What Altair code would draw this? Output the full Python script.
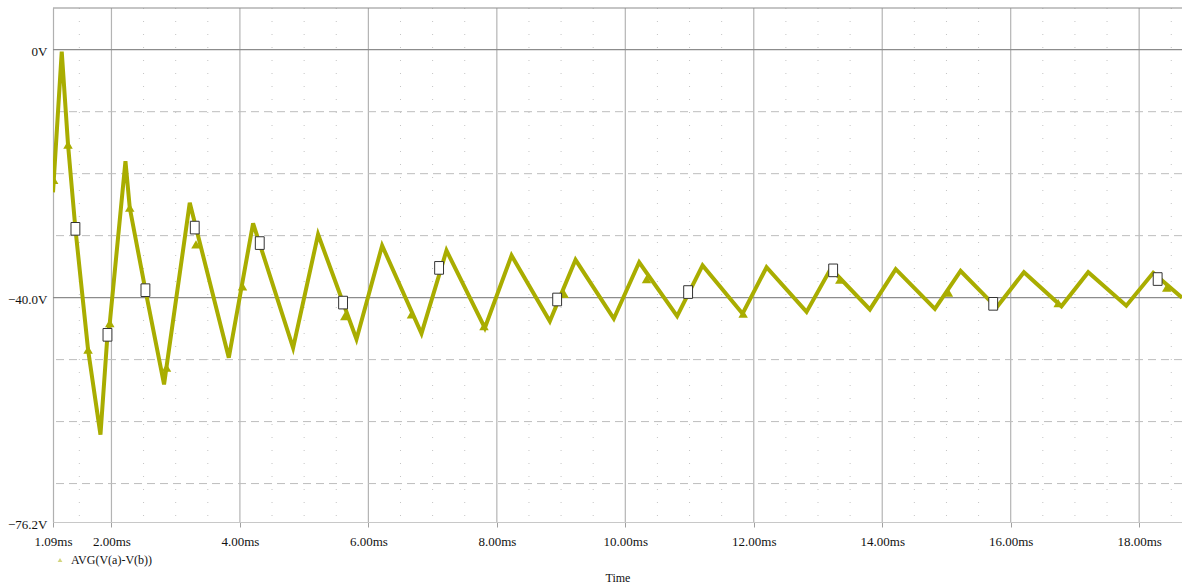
import altair as alt
import pandas as pd

# ---- data ----
T_MIN, T_MAX = 1.09, 18.667
V_MIN, V_MAX = -76.2, 6.73

line_t = [1.09, 1.226, 1.324, 1.439, 1.636, 1.829, 1.938, 1.974, 2.218, 2.285, 2.529, 2.819,
          3.219, 3.827, 4.205, 4.828, 5.217, 5.815, 6.214, 6.827, 7.216, 7.813, 8.229, 8.825,
          9.225, 9.821, 10.216, 10.807, 11.203, 11.826, 12.199, 12.822, 13.20, 13.808, 14.21,
          14.82, 15.22, 15.78, 16.206, 16.79, 17.207, 17.80, 18.219, 18.667]
line_v = [-23.0, -0.3, -15.3, -28.9, -48.4, -62.1, -46.0, -44.1, -18.0, -25.5, -38.8, -54.0,
          -24.7, -49.7, -28.0, -48.1, -29.8, -46.7, -31.6, -45.8, -32.4, -44.9, -33.2, -43.8,
          -33.9, -43.4, -34.3, -43.0, -34.8, -42.6, -35.1, -42.3, -35.3, -41.9, -35.4,
          -41.8, -35.7, -41.6, -35.9, -41.4, -35.9, -41.3, -36.0, -40.0]

tri_t = [1.10, 1.324, 1.636, 1.974, 2.285, 2.857, 3.316, 4.04, 5.633, 6.671, 7.80,
         9.048, 10.33, 11.835, 13.34, 15.03, 16.74, 18.43]
tri_v = [-21.0, -15.3, -48.4, -44.1, -25.5, -51.3, -31.4, -38.2, -43.0, -42.7, -44.6,
         -39.4, -37.0, -42.6, -37.1, -39.2, -40.9, -38.4]

sq_t = [1.439, 1.938, 2.529, 3.297, 4.309, 5.606, 7.101, 8.939, 10.978, 13.236, 15.728, 18.288]
sq_v = [-28.9, -46.0, -38.8, -28.7, -31.2, -40.8, -35.2, -40.3, -39.1, -35.6, -41.0, -37.0]

x_tick_values = [1.09, 2, 4, 6, 8, 10, 12, 14, 16, 18]
y_tick_values = [0, -40, -76.2]
major_v_grid = [2, 4, 6, 8, 10, 12, 14, 16, 18]
minor_v_grid = [1.5, 2.5, 3.0, 3.5, 4.5, 5.0, 5.5, 6.5, 7.0, 7.5, 8.5, 9.0, 9.5, 10.5, 11.0,
                11.5, 12.5, 13.0, 13.5, 14.5, 15.0, 15.5, 16.5, 17.0, 17.5, 18.5]
dashed_h_grid = [-10, -20, -30, -50, -60, -70]
solid_h_grid = [6.73, 0, -40]

series_name = "AVG(V(a)-V(b))"

FONT = "Liberation Serif"
OLIVE = "#a9ad00"

xs = alt.Scale(domain=[T_MIN, T_MAX], nice=False, zero=False)
ys = alt.Scale(domain=[V_MIN, V_MAX], nice=False, zero=False)

x_axis = alt.Axis(
    values=x_tick_values,
    labelExpr="format(datum.value, '.2f') + 'ms'",
    title="Time",
    grid=False,
    domain=True, domainColor="#c8c8c8", domainWidth=1,
    ticks=True, tickSize=5, tickColor="#a0a0a0",
    labelFont=FONT, labelFontSize=13, labelColor="#111111",
    labelPadding=8, labelOverlap=False, labelFlush=False,
    titleFont=FONT, titleFontSize=12, titleFontWeight="normal",
    titleColor="#111111", titlePadding=24,
)
y_axis = alt.Axis(
    values=y_tick_values,
    labelExpr="datum.value == 0 ? '0V' : format(datum.value, '.1f') + 'V'",
    title=None,
    grid=False,
    domain=True, domainColor="#b0b0b0", domainWidth=1.2,
    ticks=False,
    labelFont=FONT, labelFontSize=13, labelColor="#111111",
    labelPadding=6, labelOffset=2,
)

line_df = pd.DataFrame({"t": line_t, "v": line_v, "series": series_name})
tri_df = pd.DataFrame({"t": tri_t, "v": tri_v, "series": series_name})
sq_df = pd.DataFrame({"t": sq_t, "v": sq_v})

X = alt.X("t:Q", scale=xs, axis=x_axis)
Y = alt.Y("v:Q", scale=ys, axis=y_axis)

minor_v = alt.Chart(pd.DataFrame({"t": minor_v_grid})).mark_rule(
    color="#c4c4c4", strokeWidth=1, strokeDash=[1, 12]
).encode(x=X)

major_v = alt.Chart(pd.DataFrame({"t": major_v_grid})).mark_rule(
    color="#b4b4b4", strokeWidth=1.2
).encode(x=X)

dashed_h = alt.Chart(pd.DataFrame({"v": dashed_h_grid})).mark_rule(
    color="#bdbdbd", strokeWidth=1, strokeDash=[8, 5]
).encode(y=Y)

solid_h = alt.Chart(pd.DataFrame({"v": solid_h_grid})).mark_rule(
    color="#8c8c8c", strokeWidth=1.2
).encode(y=Y)

line = alt.Chart(line_df).mark_line(
    color=OLIVE, strokeWidth=4, clip=True, strokeJoin="miter"
).encode(x=X, y=Y, order="t:Q")

tris = alt.Chart(tri_df).mark_point(
    filled=True, color=OLIVE, size=90, opacity=1, clip=True
).encode(
    x=X, y=Y,
    shape=alt.Shape(
        "series:N",
        scale=alt.Scale(range=["triangle-up"]),
        legend=alt.Legend(
            orient="none", legendX=1, legendY=546, title=None,
            symbolSize=22, symbolFillColor="#f2f2e0", symbolStrokeColor="#c8c8a8",
            symbolStrokeWidth=1, symbolOpacity=0.5,
            labelFont=FONT, labelFontSize=12, labelColor="#111111", labelOffset=5,
            padding=0,
        ),
    ),
)

squares = alt.Chart(sq_df).mark_point(
    shape="M-0.7,-1L0.7,-1L0.7,1L-0.7,1Z",
    filled=True, fill="#ffffff", stroke="#333333", strokeWidth=1, size=160, opacity=1,
    clip=True,
).encode(x=X, y=Y)

chart = alt.layer(minor_v, major_v, dashed_h, solid_h, line, tris, squares).properties(
    width=1129, height=514,
    autosize=alt.AutoSizeParams(type="none"),
    padding={"left": 53, "top": 8, "right": 0, "bottom": 66},
    background="#ffffff",
).configure_view(stroke=None)

chart.save("out.html", embed_options={"renderer": "svg", "actions": False})
